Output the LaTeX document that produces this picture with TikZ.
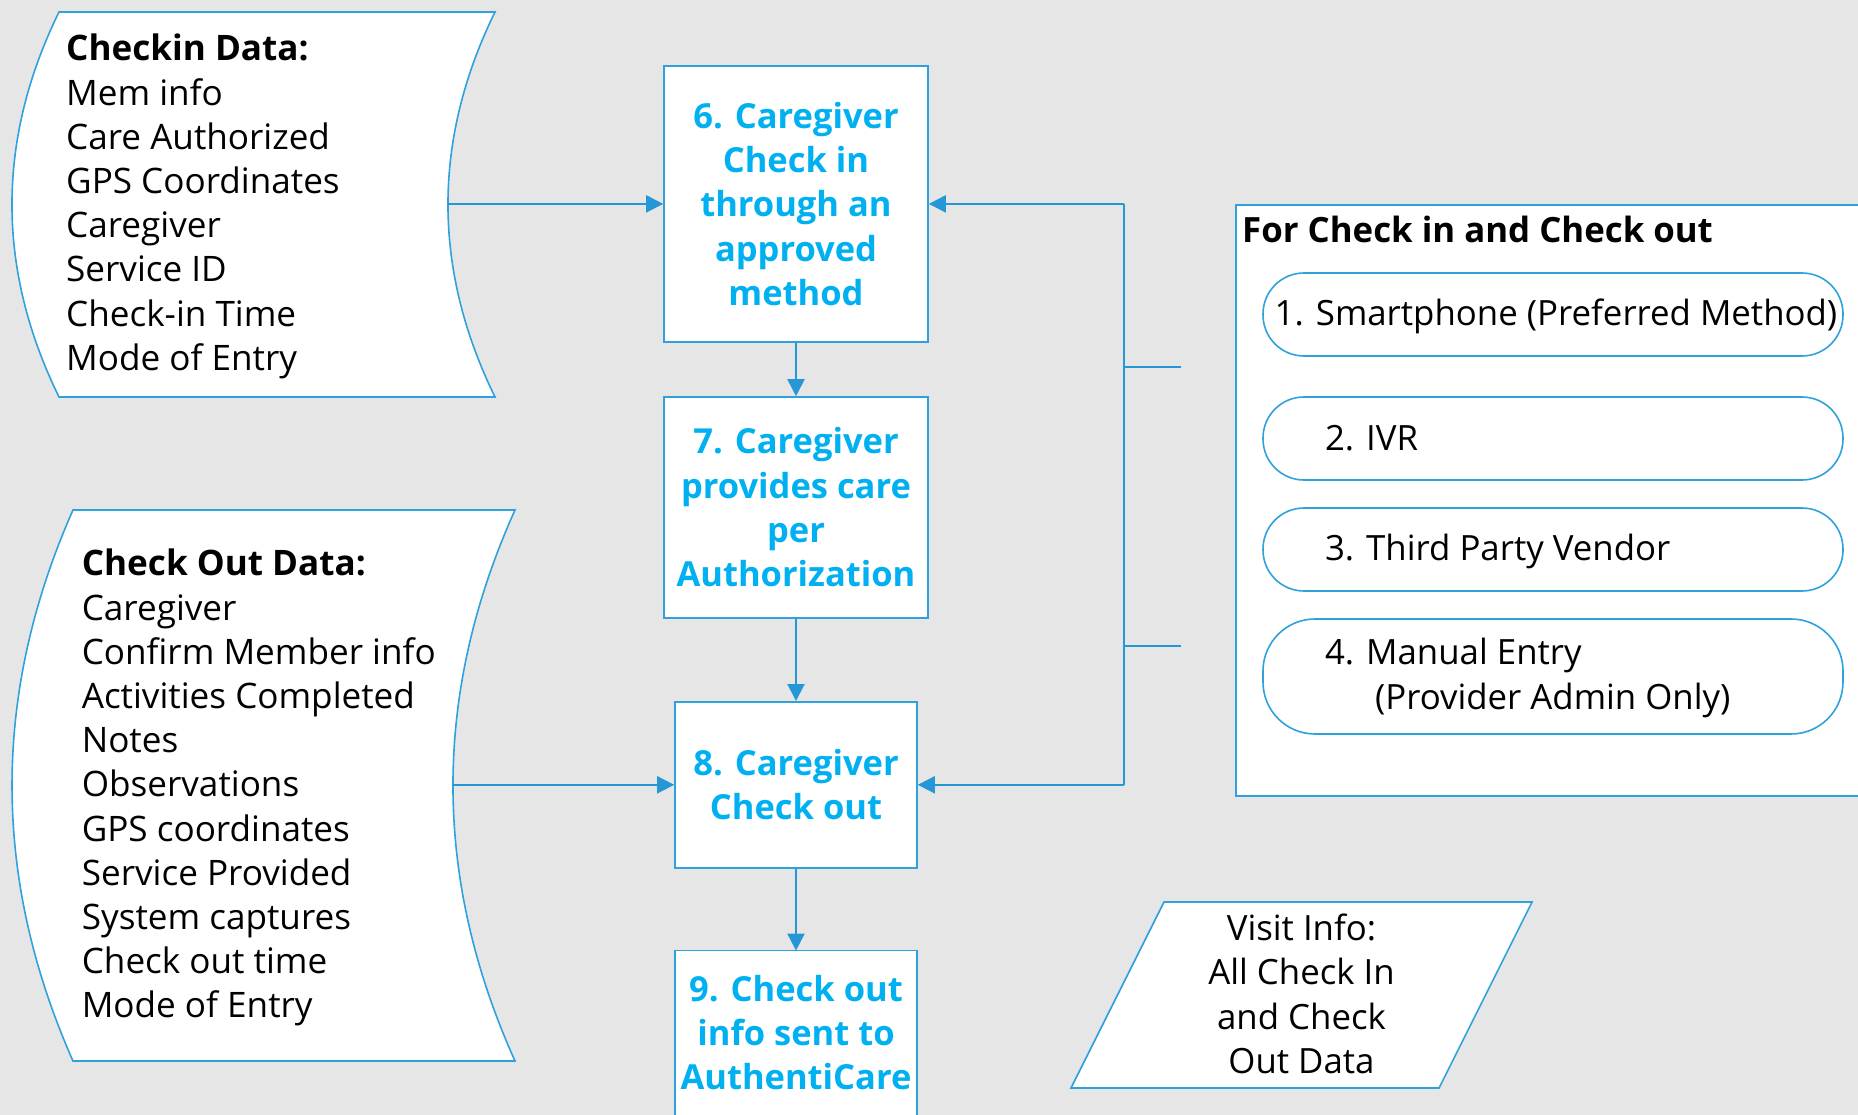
\documentclass[tikz,border=0pt]{standalone}
\usepackage{fontspec}
\setmainfont{Open Sans}
\usetikzlibrary{arrows.meta}
\definecolor{bg}{HTML}{E6E6E6}
\definecolor{edgeblue}{HTML}{2FA2DE}
\definecolor{connblue}{HTML}{2596D6}
\definecolor{stepblue}{HTML}{00B0F0}
\newcommand{\pilltext}[2]{\raisebox{#1}[25pt][9pt]{#2}}
\begin{document}
\begin{tikzpicture}[x=1pt,y=-1pt,
  shapeline/.style={draw=edgeblue, line width=1.6pt, fill=white},
  stepbox/.style={shapeline, rectangle, inner sep=0pt, align=center, text=stepblue,
    font=\fontsize{34.5}{44.3}\selectfont\bfseries},
  connline/.style={draw=connblue, line width=2pt},
  arr/.style={connline, -{Triangle[length=17pt,width=17pt]}},
  pill/.style={shapeline, rectangle, inner sep=0pt, minimum width=580pt,
    font=\fontsize{34.8}{45}\selectfont},
  datatext/.style={anchor=north west, inner sep=0pt, align=left,
    font=\fontsize{35.1}{44.2}\selectfont}
]
\fill[bg] (0,0) rectangle (1858,1115);
\useasboundingbox (0,0) rectangle (1858,1115);

% data shapes
\path[shapeline] (59,12) -- (495,12) .. controls (432.3,140) and (432.3,269) .. (495,397)
  -- (59,397) .. controls (-3.7,269) and (-3.7,140) .. (59,12) -- cycle;
\node[datatext] (checkin) at (66,34) {\textbf{Checkin Data:}\\Mem info\\Care Authorized\\GPS Coordinates\\Caregiver\\Service ID\\Check-in Time\\Mode of Entry};
\coordinate (checkinR) at (448,203.9);

\path[shapeline] (73,510) -- (515,510) .. controls (432.3,693.7) and (432.3,877.3) .. (515,1061)
  -- (73,1061) .. controls (-8.3,877.3) and (-8.3,693.7) .. (73,510) -- cycle;
\node[datatext] (checkout) at (81.6,549) {\textbf{Check Out Data:}\\Caregiver\\Confirm Member info\\Activities Completed\\Notes\\Observations\\GPS coordinates\\Service Provided\\System captures\\Check out time\\Mode of Entry};
\coordinate (checkoutR) at (453,784.8);

% steps
\node[stepbox, minimum width=264pt, minimum height=276pt] (box6) at (796,203.9)
  {6. Caregiver\\Check in\\through an\\approved\\method};
\node[stepbox, minimum width=264pt, minimum height=221pt] (box7) at (796,507.5)
  {7. Caregiver\\provides care\\per\\Authorization};
\node[stepbox, minimum width=242pt, minimum height=166pt] (box8) at (796,784.8)
  {8. Caregiver\\Check out};
% box 9 runs past the lower edge of the picture
\path[shapeline] (675,1160) -- (675,950.6) -- (917,950.6) -- (917,1160);
\node[stepbox, draw=none, fill=none, anchor=north, minimum width=242pt, minimum height=162pt] (box9) at (796,950.6)
  {9. Check out\\info sent to\\AuthentiCare};

% methods panel
\node[shapeline, rectangle, anchor=north west, minimum width=640pt, minimum height=591pt] (methods) at (1235,204) {};
\node[anchor=base west, inner sep=0pt, font=\fontsize{34.8}{44}\selectfont\bfseries] (title) at (1242,243) {For Check in and Check out};
\node[pill, minimum height=83pt, rounded corners=41pt] (p1) at (1553,314.5)
  {\makebox[580pt][l]{\hspace{11.7pt}\pilltext{-3.5pt}{1. Smartphone (Preferred Method)}}};
\node[pill, minimum height=83pt, rounded corners=41pt] (p2) at (1553,438.5)
  {\makebox[580pt][l]{\hspace{62pt}\pilltext{-3.5pt}{2. IVR}}};
\node[pill, minimum height=83pt, rounded corners=41pt] (p3) at (1553,549.5)
  {\makebox[580pt][l]{\hspace{62pt}\pilltext{-3pt}{3. Third Party Vendor}}};
\node[pill, minimum height=115pt, rounded corners=52pt] (p4) at (1553,676.5)
  {\makebox[580pt][l]{\hspace{62pt}\raisebox{-2pt}[25pt][54pt]{\vtop{\hbox{4. Manual Entry}\hbox{\hspace{50pt}(Provider Admin Only)}}}}};

% visit info
\path[shapeline] (1164,902) -- (1532,902) -- (1439,1088) -- (1071,1088) -- cycle;
\node[inner sep=0pt, align=center, font=\fontsize{34.8}{44.5}\selectfont] (visit) at (1301.5,994)
  {Visit Info:\\All Check In\\and Check\\Out Data};

% connectors
\coordinate (busTop) at (1124,203.9);
\coordinate (busBot) at (1124,784.8);
\coordinate (bus1) at (1124,367);
\coordinate (bus2) at (1124,646.3);
\coordinate (stub1) at (1181,367);
\coordinate (stub2) at (1181,646.3);

\draw[arr] (checkinR) -- (box6.west);
\draw[arr] (checkoutR) -- (box8.west);
\draw[arr] (box6.south) -- (box7.north);
\draw[arr] (box7.south) -- (box8.north);
\draw[arr] (box8.south) -- (box9.north);
\draw[connline] (busTop) -- (busBot);
\draw[arr] (busTop) -- (box6.east);
\draw[arr] (busBot) -- (box8.east);
\draw[connline] (bus1) -- (stub1);
\draw[connline] (bus2) -- (stub2);
\end{tikzpicture}
\end{document}
